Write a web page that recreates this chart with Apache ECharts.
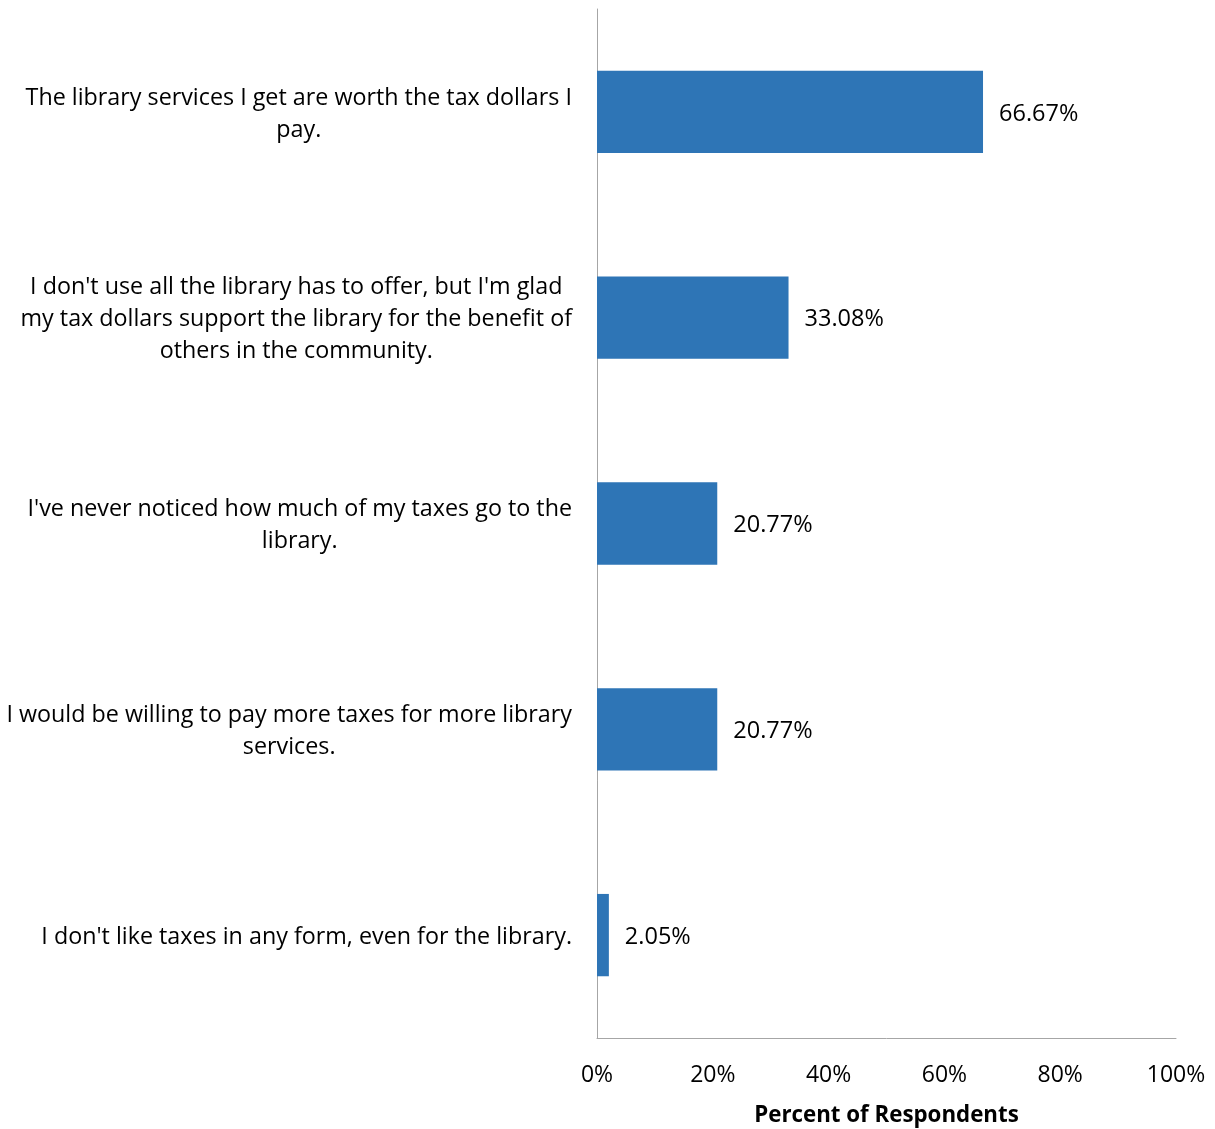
<!DOCTYPE html>
<html>
<head>
<meta charset="utf-8">
<script src="https://cdn.jsdelivr.net/npm/echarts@6/dist/echarts.min.js"></script>
<style>html,body{margin:0;padding:0;background:#fff}#c{width:1215px;height:1129px}</style>
</head>
<body>
<div id="c"></div>
<script>
const categories = [
  "The library services I get are worth the tax dollars I\npay.",
  "I don't use all the library has to offer, but I'm glad\nmy tax dollars support the library for the benefit of\nothers in the community.",
  "I've never noticed how much of my taxes go to the\nlibrary.",
  "I would be willing to pay more taxes for more library\nservices.",
  "I don't like taxes in any form, even for the library."
];
const values = [66.67, 33.08, 20.77, 20.77, 2.05];
const xTicks = [0, 20, 40, 60, 80, 100];
const axisName = "Percent of Respondents";

const FONT = "Open Sans";
const chart = echarts.init(document.getElementById('c'));
chart.setOption({
  animation: false,
  backgroundColor: '#fff',
  grid: { left: 597, right: 39, top: 9, bottom: 91, containLabel: false, outerBoundsMode: 'none' },
  xAxis: {
    type: 'value', min: 0, max: 100, interval: 20,
    axisLine: { show: true, lineStyle: { color: '#a6a6a6', width: 1 } },
    axisTick: { show: false },
    splitLine: { show: false },
    axisLabel: { color: '#000', fontFamily: FONT, fontSize: 23, margin: 26,
      formatter: v => xTicks.includes(v) ? v + '%' : '' },
    name: axisName, nameLocation: 'middle', nameGap: 67,
    nameTextStyle: { color: '#000', fontFamily: FONT, fontSize: 22.3, fontWeight: 'bold' }
  },
  yAxis: {
    type: 'category', data: categories, inverse: true,
    axisLine: { show: true, lineStyle: { color: '#a6a6a6', width: 1 } },
    axisTick: { show: false },
    axisLabel: {
      margin: 25, color: '#000', fontFamily: FONT, fontSize: 23.3, lineHeight: 32,
      padding: [4, 0, 0, 0],
      formatter: v => v.split('\n').map(l => '{c|' + l + '}').join('\n'),
      rich: { c: { align: 'center', color: '#000', fontFamily: FONT, fontSize: 23.3, lineHeight: 32 } }
    }
  },
  series: [{
    type: 'bar', data: values, barWidth: '40%',
    itemStyle: { color: '#2E75B6' },
    label: { show: true, position: 'right', distance: 16, offset: [0, 2], color: '#000',
      fontFamily: FONT, fontSize: 23.5, formatter: p => p.value.toFixed(2) + '%' }
  }]
});
</script>
</body>
</html>
